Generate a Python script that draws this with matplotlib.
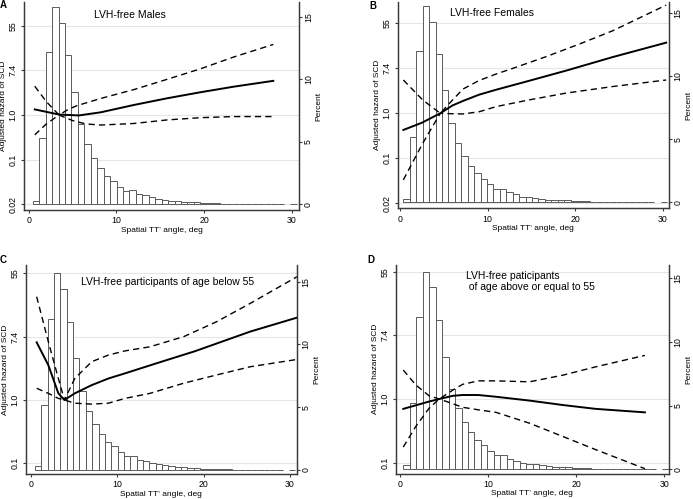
import numpy as np
import matplotlib.pyplot as plt
from matplotlib.transforms import blended_transform_factory

plt.rcParams['font.family'] = ['Liberation Sans', 'DejaVu Sans']

W, H = 693, 499

# ---- data ----
# x in deg, y = log adjusted hazard (left axis labels are exp of it)
a_x_fit = [0.68, 1.9, 3.45, 5.7, 8.2, 12.0, 15.8, 19.6, 23.4, 27.9]
a_y_fit = [0.25, 0.15, 0.02, -0.02, 0.12, 0.45, 0.75, 1.02, 1.27, 1.53]
a_x_hi = [0.68, 2.0, 3.45, 4.5, 5.5, 8.2, 12.0, 15.8, 19.6, 23.4, 27.9]
a_y_hi = [1.29, 0.6, 0.0, 0.25, 0.42, 0.74, 1.14, 1.6, 2.07, 2.6, 3.16]
a_x_lo = [0.68, 2.0, 3.45, 5.0, 6.5, 8.2, 12.0, 15.8, 19.6, 23.4, 27.9]
a_y_lo = [-0.89, -0.4, 0.0, -0.25, -0.4, -0.45, -0.38, -0.22, -0.12, -0.07, -0.07]

b_x_fit = [0.38, 2.5, 4.6, 6.0, 7.2, 9.05, 11.0, 14.8, 19.0, 24.3, 30.4]
b_y_fit = [-0.74, -0.42, 0.0, 0.35, 0.55, 0.83, 1.05, 1.45, 1.9, 2.5, 3.14]
b_x_hi = [0.38, 2.6, 4.6, 6.0, 7.2, 9.05, 11.0, 12.9, 16.7, 20.5, 24.3, 30.4]
b_y_hi = [1.48, 0.59, 0.0, 0.59, 1.08, 1.46, 1.75, 2.0, 2.52, 3.08, 3.67, 4.81]
b_x_lo = [0.38, 2.6, 4.6, 6.0, 7.2, 9.05, 11.0, 14.8, 19.0, 24.3, 30.4]
b_y_lo = [-2.96, -1.33, 0.0, -0.02, -0.03, 0.07, 0.3, 0.6, 0.9, 1.19, 1.48]

c_x_fit = [0.69, 2.04, 3.2, 3.9, 5.1, 7.06, 9.0, 10.9, 14.8, 19.0, 25.4, 30.8]
c_y_fit = [1.82, 1.1, 0.21, 0.0, 0.21, 0.47, 0.68, 0.84, 1.18, 1.54, 2.16, 2.6]
c_x_hi = [0.69, 2.04, 3.2, 3.9, 5.1, 7.06, 9.0, 10.9, 13.8, 17.7, 21.5, 25.4, 30.8]
c_y_hi = [3.26, 1.84, 0.68, 0.0, 0.68, 1.21, 1.42, 1.55, 1.68, 2.0, 2.47, 3.05, 3.89]
c_x_lo = [0.69, 2.04, 3.2, 3.9, 5.1, 7.06, 9.0, 10.9, 13.8, 17.7, 21.5, 25.4, 30.8]
c_y_lo = [0.37, 0.21, 0.05, 0.0, -0.1, -0.13, -0.1, 0.05, 0.21, 0.53, 0.79, 1.05, 1.28]

d_x_fit = [0.37, 3.3, 4.46, 6.0, 7.1, 8.9, 10.9, 14.7, 18.5, 22.2, 27.8]
d_y_fit = [-0.31, -0.08, 0.0, 0.1, 0.125, 0.125, 0.07, -0.05, -0.19, -0.31, -0.42]
d_x_hi = [0.37, 1.8, 3.3, 4.46, 6.0, 7.1, 8.9, 10.9, 14.7, 18.5, 22.2, 27.8]
d_y_hi = [-1.51, -0.86, -0.29, 0.0, 0.28, 0.46, 0.57, 0.57, 0.54, 0.75, 1.01, 1.37]
d_x_lo = [0.37, 1.8, 3.3, 4.46, 6.0, 7.1, 8.9, 10.9, 14.7, 18.5, 22.2, 27.8]
d_y_lo = [0.91, 0.44, 0.1, 0.0, -0.15, -0.26, -0.34, -0.42, -0.76, -1.18, -1.59, -2.19]

# histogram, percent per bin (nan = empty bin)
tail = [0.2, 0.17, 0.15, 0.1, 0.08, 0.07, 0.05, 0.04, 0.03, 0.03, 0.02, 0.02,
        0.01, 0.01, 0.01, 0.0, np.nan, 0.0]
a_pct = [0.27, 5.3, 12.2, 15.8, 14.5, 11.9, 9.0, 6.4, 4.8, 3.7, 2.9, 2.3, 1.9, 1.4,
         1.07, 1.12, 0.83, 0.72, 0.56, 0.43, 0.35, 0.28, 0.25] + tail
b_pct = [0.29, 5.2, 12.0, 15.6, 14.3, 11.8, 8.9, 6.3, 4.7, 3.7, 2.9, 2.3, 1.85, 1.45,
         1.06, 1.08, 0.79, 0.66, 0.45, 0.4, 0.34, 0.26, 0.22] + tail
c_pct = [0.32, 5.2, 12.0, 15.7, 14.4, 11.8, 8.9, 6.3, 4.7, 3.7, 2.85, 2.2, 1.9, 1.43,
         1.09, 1.09, 0.82, 0.69, 0.53, 0.45, 0.37, 0.29, 0.21] + tail
d_pct = [0.31, 5.2, 12.0, 15.5, 14.3, 11.7, 8.8, 6.3, 4.8, 3.7, 2.9, 2.3, 1.9, 1.44,
         1.1, 1.13, 0.84, 0.68, 0.52, 0.45, 0.39, 0.34, 0.26] + tail
bin_start = [0.46, 0.38, 0.5, 0.37]
bin_width = 0.735

titles = ["LVH-free Males", "LVH-free Females",
          "LVH-free participants of age below 55",
          "LVH-free paticipants\n of age above or equal to 55"]
letters = ["A", "B", "C", "D"]
ab_ticks = [-4, -2, 0, 2, 4]
ab_labels = ["0.02", "0.1", "1.0", "7.4", "55"]
cd_ticks = [-2, 0, 2, 4]
cd_labels = ["0.1", "1.0", "7.4", "55"]
pct_ticks = [0, 5, 10, 15]
x_ticks = [0, 10, 20, 30]

# ---- layout in pixels: box (L, R, T, B), x0/x30 px, ln4/ln0 px, pct0/pct15 px ----
panels = [
    dict(box=(24, 299, 2, 210), x=(28.8, 291.7), ln=(25.7, 115.0), p=(204.3, 16.7),
         fit=(a_x_fit, a_y_fit), hi=(a_x_hi, a_y_hi), lo=(a_x_lo, a_y_lo), pct=a_pct,
         ticks=ab_ticks, labels=ab_labels, title_xy=(129.5, 15.5), ha='center',
         letter_xy=(3.5, 5.5)),
    dict(box=(398, 668.5, 2, 208.3), x=(400.0, 662.7), ln=(23.3, 113.3), p=(202.3, 13.3),
         fit=(b_x_fit, b_y_fit), hi=(b_x_hi, b_y_hi), lo=(b_x_lo, b_y_lo), pct=b_pct,
         ticks=ab_ticks, labels=ab_labels, title_xy=(492.5, 13.3), ha='center',
         letter_xy=(372.5, 6.0)),
    dict(box=(26, 296.7, 265, 474), x=(30.7, 290.0), ln=(273.3, 400.0), p=(470.0, 281.7),
         fit=(c_x_fit, c_y_fit), hi=(c_x_hi, c_y_hi), lo=(c_x_lo, c_y_lo), pct=c_pct,
         ticks=cd_ticks, labels=cd_labels, title_xy=(167.5, 282.3), ha='center',
         letter_xy=(3.5, 260.0)),
    dict(box=(395.5, 668.5, 265, 473.5), x=(400.0, 664.3), ln=(271.7, 399.0), p=(469.3, 278.3),
         fit=(d_x_fit, d_y_fit), hi=(d_x_hi, d_y_hi), lo=(d_x_lo, d_y_lo), pct=d_pct,
         ticks=cd_ticks, labels=cd_labels, title_xy=(466.0, 281.7), ha='left',
         letter_xy=(371.0, 260.0)),
]

fig = plt.figure(figsize=(W / 100, H / 100), dpi=100)
spine_c = '#3a3a3a'

for i, p in enumerate(panels):
    L, R, T, B = p['box']
    ax = fig.add_axes([L / W, 1 - B / H, (R - L) / W, (B - T) / H])
    axh = ax.twinx()
    ax.set_zorder(2)
    ax.patch.set_visible(False)
    axh.set_zorder(1)

    sx = (p['x'][1] - p['x'][0]) / 30.0
    ax.set_xlim((L - p['x'][0]) / sx, (R - p['x'][0]) / sx)
    sy = (p['ln'][1] - p['ln'][0]) / 4.0
    ax.set_ylim((p['ln'][1] - B) / sy, (p['ln'][1] - T) / sy)
    sp = (p['p'][0] - p['p'][1]) / 15.0
    axh.set_ylim((p['p'][0] - B) / sp, (p['p'][0] - T) / sp)

    # grid at left-axis ticks, behind the bars
    tr = blended_transform_factory(axh.transAxes, ax.transData)
    for t in p['ticks']:
        axh.plot([0, 1], [t, t], transform=tr, color='#e6e6e6', lw=0.8, zorder=0)

    pct = np.array(p['pct'], dtype=float)
    edges = bin_start[i] + bin_width * np.arange(len(pct))
    axh.bar(edges, pct, width=bin_width, align='edge', facecolor='white',
            edgecolor='#5a5a5a', lw=0.7, zorder=2)

    ax.plot(*p['fit'], color='black', lw=1.4, solid_joinstyle='round')
    for key in ('hi', 'lo'):
        ax.plot(*p[key], color='black', lw=1.0, dashes=(4.5, 3.0))

    ax.set_yticks(p['ticks'])
    ax.set_yticklabels(p['labels'], rotation=90, va='center')
    axh.set_yticks(pct_ticks)
    axh.set_yticklabels([str(v) for v in pct_ticks], rotation=90, va='center')
    ax.set_xticks(x_ticks)

    for a in (ax, axh):
        a.spines['top'].set_visible(False)
        for s in ('left', 'right', 'bottom'):
            a.spines[s].set_color(spine_c)
            a.spines[s].set_linewidth(0.9)
        a.tick_params(labelsize=6.3, length=2.5, width=0.8, color=spine_c)
    ax.tick_params(axis='y', pad=2)
    ax.tick_params(axis='x', pad=2)
    axh.tick_params(axis='y', pad=1)

    ax.set_ylabel("Adjusted hazard of SCD", fontsize=6, labelpad=1)
    axh.set_ylabel("Percent", fontsize=6, labelpad=2)
    ax.set_xlabel("Spatial TT' angle, deg", fontsize=6, labelpad=1)

    tx, ty = p['title_xy']
    fig.text(tx / W, 1 - ty / H, titles[i], fontsize=7.5, ha=p['ha'], va='center',
             linespacing=1.15)
    lx, ly = p['letter_xy']
    fig.text(lx / W, 1 - ly / H, letters[i], fontsize=7, fontweight='bold',
             ha='center', va='center')

fig.savefig("out.png", dpi=100)
